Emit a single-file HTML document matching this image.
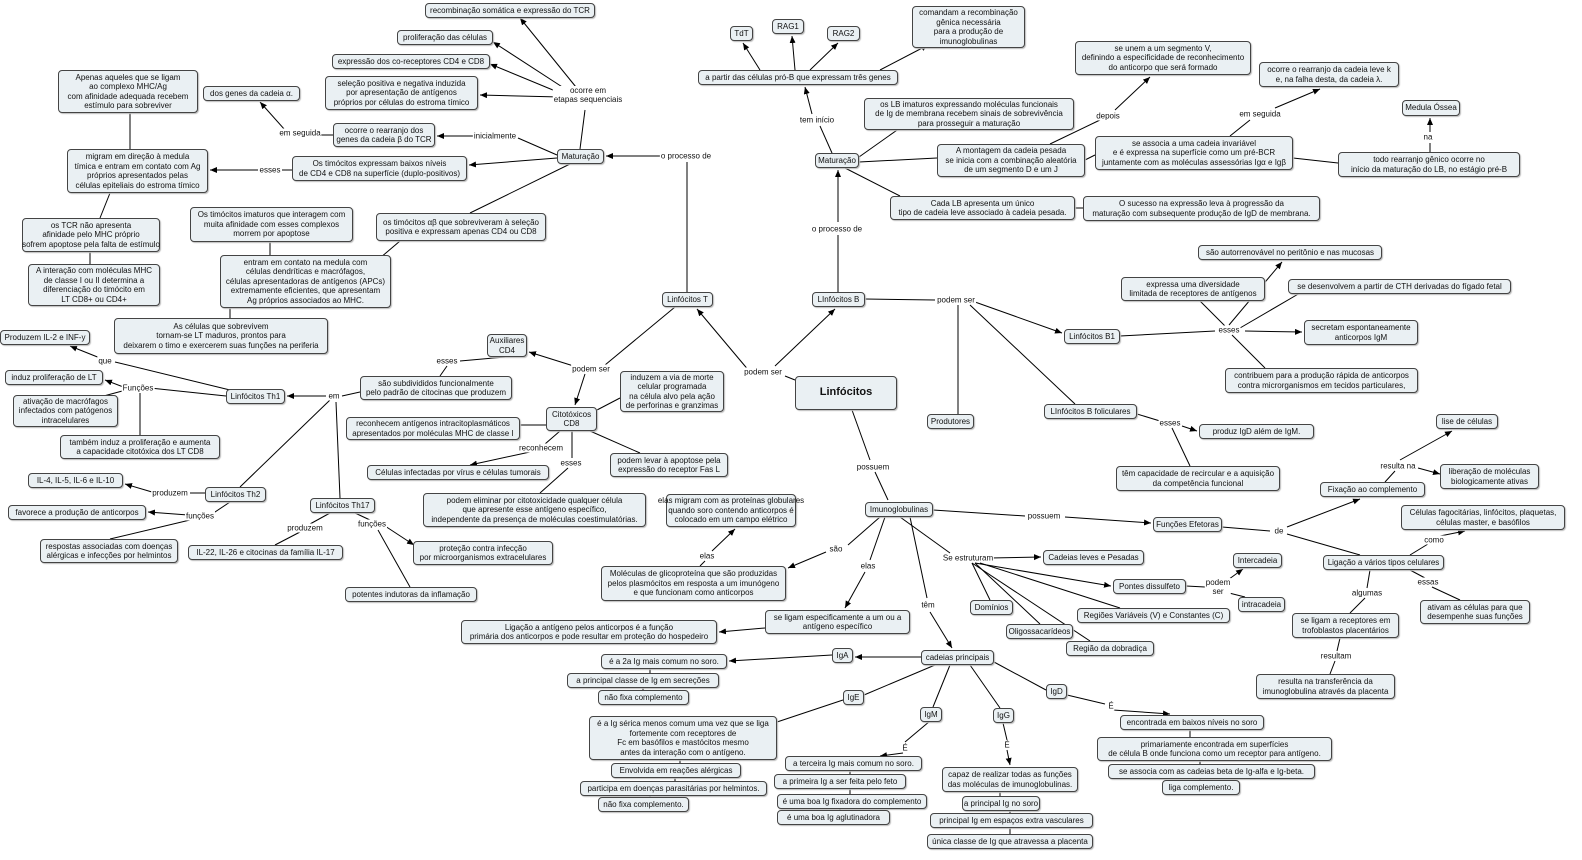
<!DOCTYPE html>
<html><head><meta charset="utf-8"><style>
body{margin:0;width:1582px;height:860px;background:#fff;position:relative;overflow:hidden;font-family:"Liberation Sans",sans-serif;font-size:8px;color:#111}
.n{position:absolute;box-sizing:border-box;border:1px solid #444;border-radius:4px;background:#eaf0f3;display:flex;align-items:center;justify-content:center;text-align:center;line-height:9.5px;box-shadow:1px 1px 1px #bbb;white-space:nowrap}
.l{position:absolute;transform:translate(-50%,-50%);background:#fff;white-space:nowrap;line-height:9px;text-align:center;padding:0 1px}
svg{position:absolute;left:0;top:0}
</style></head><body>
<svg width="1582" height="860"><defs><marker id="a" markerWidth="8" markerHeight="8" refX="7" refY="3" orient="auto"><path d="M0,0L7,3L0,6z" fill="#000"/></marker></defs>
<g stroke="#000" stroke-width="1" fill="none">
<path d="M687,292V162"/><path d="M675,156H606" marker-end="url(#a)"/>
<path d="M580,149L585,110"/><path d="M580,92L520,18" marker-end="url(#a)"/><path d="M570,92L493,42" marker-end="url(#a)"/><path d="M565,95L490,64" marker-end="url(#a)"/><path d="M560,97L480,95" marker-end="url(#a)"/>
<path d="M557,155L518,138"/><path d="M475,136H437" marker-end="url(#a)"/>
<path d="M333,135H318"/><path d="M285,130L260,102" marker-end="url(#a)"/>
<path d="M557,158L469,165" marker-end="url(#a)"/><path d="M292,170H282"/><path d="M258,170H210" marker-end="url(#a)"/>
<path d="M130,149V113"/><path d="M570,164L470,213"/><path d="M110,193L100,218"/><path d="M90,252V264"/>
<path d="M270,242V255"/><path d="M230,308V318"/><path d="M400,241L380,258"/>
<path d="M675,307L605,365"/><path d="M580,368L529,352" marker-end="url(#a)"/><path d="M585,374L575,405" marker-end="url(#a)"/>
<path d="M505,357L460,361"/><path d="M447,366L440,376"/>
<path d="M360,392L342,396"/><path d="M326,396H287" marker-end="url(#a)"/><path d="M330,400L240,487"/><path d="M336,402L340,498"/>
<path d="M226,396L150,388"/><path d="M126,388L105,380" marker-end="url(#a)"/><path d="M126,390L100,397"/><path d="M140,393V435"/>
<path d="M230,390L115,362"/><path d="M100,358L70,346" marker-end="url(#a)"/>
<path d="M205,493L190,493"/><path d="M152,492L125,484" marker-end="url(#a)"/>
<path d="M230,502L212,514"/><path d="M188,515L148,512" marker-end="url(#a)"/><path d="M190,520L110,539"/>
<path d="M330,513L310,524"/><path d="M300,532L275,545"/>
<path d="M355,513L370,520"/><path d="M385,526L414,545" marker-end="url(#a)"/><path d="M378,530L410,587"/>
<path d="M597,410L620,398"/><path d="M546,425H520"/><path d="M560,431L545,444"/><path d="M530,452L470,465" marker-end="url(#a)"/>
<path d="M572,431V458"/><path d="M568,468L540,493"/><path d="M590,431L640,453"/>
<path d="M795,380L785,376"/><path d="M750,372L697,309" marker-end="url(#a)"/><path d="M775,366L835,309" marker-end="url(#a)"/>
<path d="M838,292V235"/><path d="M838,222V170" marker-end="url(#a)"/>
<path d="M832,153L820,126"/><path d="M812,114L805,87" marker-end="url(#a)"/>
<path d="M760,70L743,43" marker-end="url(#a)"/><path d="M795,70L792,36" marker-end="url(#a)"/><path d="M810,70L838,43" marker-end="url(#a)"/><path d="M880,70L928,45" marker-end="url(#a)"/>
<path d="M859,157L900,128"/><path d="M859,162L937,158"/><path d="M845,168L900,196"/>
<path d="M1050,144L1100,120"/><path d="M1115,110L1150,77" marker-end="url(#a)"/>
<path d="M1085,160L1095,155"/><path d="M1230,136L1250,120"/><path d="M1275,108L1320,89" marker-end="url(#a)"/>
<path d="M1293,158L1338,163"/><path d="M1430,152V143"/><path d="M1430,132V118" marker-end="url(#a)"/>
<path d="M1075,208H1083"/>
<path d="M865,299L935,300"/><path d="M975,302L1062,333" marker-end="url(#a)"/><path d="M958,305V414"/><path d="M970,305L1075,404"/>
<path d="M1120,336L1215,331"/><path d="M1229,325L1282,262" marker-end="url(#a)"/><path d="M1225,326L1200,301"/><path d="M1240,328L1300,293"/><path d="M1245,331L1302,332" marker-end="url(#a)"/><path d="M1232,335L1265,368"/>
<path d="M1137,414L1160,421"/><path d="M1182,426L1197,431" marker-end="url(#a)"/><path d="M1172,428L1190,466"/>
<path d="M852,410L870,460"/><path d="M875,472L888,500"/>
<path d="M933,510L1025,516"/><path d="M1065,517L1151,523" marker-end="url(#a)"/>
<path d="M1222,527L1270,531"/><path d="M1287,527L1360,499" marker-end="url(#a)"/><path d="M1287,534L1360,555"/>
<path d="M1385,482L1395,471"/><path d="M1400,460L1452,431" marker-end="url(#a)"/><path d="M1418,468L1440,474" marker-end="url(#a)"/>
<path d="M1410,555L1428,544"/><path d="M1440,536L1465,531" marker-end="url(#a)"/>
<path d="M1370,570L1367,588"/><path d="M1365,598L1350,613"/><path d="M1410,570L1425,578"/><path d="M1432,587L1460,600"/>
<path d="M1340,638L1337,651"/><path d="M1335,661L1330,674"/>
<path d="M880,517L848,545"/><path d="M826,552L788,568" marker-end="url(#a)"/><path d="M700,566L705,561"/><path d="M712,551L735,529" marker-end="url(#a)"/>
<path d="M885,517L870,560"/><path d="M865,572L845,608" marker-end="url(#a)"/><path d="M765,628L719,632" marker-end="url(#a)"/>
<path d="M900,517L950,553"/><path d="M990,558L1041,557" marker-end="url(#a)"/><path d="M975,563L1111,586" marker-end="url(#a)"/><path d="M972,563L990,600"/><path d="M980,563L1120,608"/><path d="M975,563L1040,624"/><path d="M972,563L1090,641"/>
<path d="M1186,586L1205,587"/><path d="M1225,582L1243,569" marker-end="url(#a)"/><path d="M1225,592L1245,597"/>
<path d="M910,517L927,598"/><path d="M930,612L952,648" marker-end="url(#a)"/>
<path d="M921,657H855" marker-end="url(#a)"/><path d="M935,665L864,695"/><path d="M950,665L933,707"/><path d="M970,665L1000,708"/><path d="M994,662L1046,690"/>
<path d="M832,655L729,661" marker-end="url(#a)"/><path d="M650,668V673"/><path d="M643,688V690"/>
<path d="M843,700L777,722"/><path d="M680,760V763"/><path d="M675,778V781"/><path d="M650,796V797"/>
<path d="M930,721L905,742"/><path d="M903,753L880,756" marker-end="url(#a)"/><path d="M850,771V774"/><path d="M850,788V794"/><path d="M840,809V810"/>
<path d="M1003,723L1007,740"/><path d="M1007,750L1010,765" marker-end="url(#a)"/><path d="M1000,792V796"/><path d="M1010,811V813"/><path d="M1010,828V834"/>
<path d="M1067,695L1105,704"/><path d="M1113,710L1170,714" marker-end="url(#a)"/><path d="M1190,730V737"/><path d="M1200,761V764"/><path d="M1200,779V780"/>
</g></svg>

<div class="n" style="left:425px;top:3px;width:170px;height:15px">recombinação somática e expressão do TCR</div>
<div class="n" style="left:397px;top:30px;width:96px;height:15px">proliferação das células</div>
<div class="n" style="left:332px;top:54px;width:158px;height:15px">expressão dos co-receptores CD4 e CD8</div>
<div class="n" style="left:325px;top:76px;width:153px;height:34px">seleção positiva e negativa induzida<br>por apresentação de antígenos<br>próprios por células do estroma tímico</div>
<div class="l" style="left:588px;top:95px">ocorre em<br>etapas sequenciais</div>
<div class="n" style="left:203px;top:86px;width:97px;height:15px">dos genes da cadeia α.</div>
<div class="n" style="left:58px;top:70px;width:140px;height:43px">Apenas aqueles que se ligam<br>ao complexo MHC/Ag<br>com afinidade adequada recebem<br>estímulo para sobreviver</div>
<div class="n" style="left:333px;top:123px;width:102px;height:24px">ocorre o rearranjo dos<br>genes da cadeia β do TCR</div>
<div class="l" style="left:300px;top:133px">em seguida</div>
<div class="l" style="left:495px;top:136px">inicialmente</div>
<div class="n" style="left:557px;top:149px;width:47px;height:15px">Maturação</div>
<div class="l" style="left:686px;top:156px">o processo de</div>
<div class="n" style="left:67px;top:149px;width:141px;height:44px">migram em direção à medula<br>tímica e entram em contato com Ag<br>próprios apresentados pelas<br>células epiteliais do estroma tímico</div>
<div class="l" style="left:270px;top:170px">esses</div>
<div class="n" style="left:292px;top:156px;width:175px;height:25px">Os timócitos expressam baixos níveis<br>de CD4 e CD8 na superfície (duplo-positivos)</div>
<div class="n" style="left:190px;top:207px;width:163px;height:35px">Os timócitos imaturos que interagem com<br>muita afinidade com esses complexos<br>morrem por apoptose</div>
<div class="n" style="left:376px;top:213px;width:170px;height:28px">os timócitos αβ que sobreviveram à seleção<br>positiva e expressam apenas CD4 ou CD8</div>
<div class="n" style="left:22px;top:218px;width:138px;height:34px">os TCR não apresenta<br>afinidade pelo MHC próprio<br>sofrem apoptose pela falta de estímulo</div>
<div class="n" style="left:28px;top:264px;width:132px;height:42px">A interação com moléculas MHC<br>de classe I ou II determina a<br>diferenciação do timócito em<br>LT CD8+ ou CD4+</div>
<div class="n" style="left:220px;top:255px;width:171px;height:53px">entram em contato na medula com<br>células dendríticas e macrófagos,<br>células apresentadoras de antígenos (APCs)<br>extremamente eficientes, que apresentam<br>Ag próprios associados ao MHC.</div>
<div class="n" style="left:114px;top:318px;width:214px;height:36px">As células que sobrevivem<br>tornam-se  LT maduros, prontos para<br>deixarem o timo e exercerem suas funções na periferia</div>
<div class="n" style="left:662px;top:292px;width:51px;height:15px">Linfócitos T</div>
<div class="n" style="left:0px;top:330px;width:90px;height:15px">Produzem IL-2 e INF-y</div>
<div class="l" style="left:105px;top:361px">que</div>
<div class="n" style="left:487px;top:334px;width:40px;height:23px">Auxiliares<br>CD4</div>
<div class="l" style="left:447px;top:361px">esses</div>
<div class="n" style="left:5px;top:370px;width:98px;height:15px">induz proliferação de LT</div>
<div class="l" style="left:138px;top:388px">Funções</div>
<div class="n" style="left:226px;top:389px;width:59px;height:15px">Linfócitos Th1</div>
<div class="n" style="left:360px;top:376px;width:152px;height:24px">são subdivididos funcionalmente<br>pelo padrão de citocinas que produzem</div>
<div class="l" style="left:334px;top:396px">em</div>
<div class="l" style="left:591px;top:369px">podem ser</div>
<div class="n" style="left:620px;top:371px;width:104px;height:41px">induzem a via de morte<br>celular programada<br>na célula alvo pela ação<br>de perforinas e granzimas</div>
<div class="l" style="left:763px;top:372px">podem ser</div>
<div class="n" style="left:795px;top:376px;width:102px;height:34px;font-size:11px;font-weight:bold">Linfócitos</div>
<div class="n" style="left:13px;top:395px;width:105px;height:32px">ativação de macrófagos<br>infectados com patógenos<br>intracelulares</div>
<div class="n" style="left:546px;top:407px;width:51px;height:24px">Citotóxicos<br>CD8</div>
<div class="n" style="left:346px;top:417px;width:174px;height:23px">reconhecem antígenos intracitoplasmáticos<br>apresentados por moléculas MHC de classe I</div>
<div class="n" style="left:60px;top:435px;width:160px;height:24px">também induz a proliferação e aumenta<br>a capacidade citotóxica dos LT CD8</div>
<div class="l" style="left:541px;top:448px">reconhecem</div>
<div class="n" style="left:367px;top:465px;width:182px;height:15px">Células infectadas por vírus e células tumorais</div>
<div class="n" style="left:610px;top:453px;width:118px;height:24px">podem levar à apoptose pela<br>expressão do receptor Fas L</div>
<div class="l" style="left:571px;top:463px">esses</div>
<div class="n" style="left:28px;top:473px;width:95px;height:15px">IL-4, IL-5, IL-6 e IL-10</div>
<div class="l" style="left:170px;top:493px">produzem</div>
<div class="n" style="left:205px;top:487px;width:61px;height:15px">Linfócitos Th2</div>
<div class="n" style="left:8px;top:505px;width:138px;height:15px">favorece a produção de anticorpos</div>
<div class="l" style="left:200px;top:516px">funções</div>
<div class="n" style="left:310px;top:498px;width:65px;height:15px">Linfócitos Th17</div>
<div class="l" style="left:372px;top:524px">funções</div>
<div class="l" style="left:305px;top:528px">produzem</div>
<div class="n" style="left:423px;top:493px;width:223px;height:34px">podem eliminar por citotoxicidade qualquer célula<br>que apresente esse antígeno específico,<br>independente da presença de moléculas coestimulatórias.</div>
<div class="n" style="left:40px;top:539px;width:138px;height:24px">respostas associadas com doenças<br>alérgicas e infecções por helmintos</div>
<div class="n" style="left:188px;top:545px;width:155px;height:15px">IL-22, IL-26 e citocinas da família IL-17</div>
<div class="n" style="left:413px;top:541px;width:140px;height:24px">proteção contra infecção<br>por microorganismos extracelulares</div>
<div class="n" style="left:345px;top:587px;width:132px;height:15px">potentes indutoras da inflamação</div>

<div class="n" style="left:666px;top:494px;width:130px;height:33px">elas migram com as proteínas globulares<br>quando soro contendo anticorpos é<br>colocado em um campo elétrico</div>
<div class="n" style="left:865px;top:502px;width:68px;height:15px">Imunoglobulinas</div>
<div class="l" style="left:873px;top:467px">possuem</div>
<div class="l" style="left:1044px;top:516px">possuem</div>
<div class="n" style="left:1153px;top:517px;width:69px;height:15px">Funções Efetoras</div>
<div class="l" style="left:1279px;top:531px">de</div>
<div class="l" style="left:707px;top:556px">elas</div>
<div class="l" style="left:836px;top:549px">são</div>
<div class="l" style="left:868px;top:566px">elas</div>
<div class="l" style="left:928px;top:605px">têm</div>
<div class="l" style="left:968px;top:558px">Se estruturam</div>
<div class="n" style="left:1043px;top:550px;width:101px;height:15px">Cadeias leves e Pesadas</div>
<div class="n" style="left:601px;top:566px;width:185px;height:35px">Moléculas de glicoproteína que são produzidas<br>pelos plasmócitos em resposta a um imunógeno<br>e que funcionam como anticorpos</div>
<div class="n" style="left:1113px;top:579px;width:73px;height:15px">Pontes dissulfeto</div>
<div class="l" style="left:1218px;top:587px">podem<br>ser</div>
<div class="n" style="left:1233px;top:553px;width:49px;height:15px">Intercadeia</div>
<div class="n" style="left:1238px;top:597px;width:47px;height:15px">intracadeia</div>
<div class="n" style="left:970px;top:600px;width:43px;height:15px">Domínios</div>
<div class="n" style="left:1077px;top:608px;width:153px;height:15px">Regiões Variáveis (V) e Constantes (C)</div>
<div class="n" style="left:1006px;top:624px;width:67px;height:15px">Oligossacarídeos</div>
<div class="n" style="left:1066px;top:641px;width:88px;height:15px">Região da dobradiça</div>
<div class="n" style="left:765px;top:610px;width:145px;height:24px">se ligam especificamente a um ou a<br>antígeno específico</div>
<div class="n" style="left:461px;top:620px;width:256px;height:24px">Ligação a antígeno pelos anticorpos é a função<br>primária dos anticorpos e pode resultar em proteção do hospedeiro</div>
<div class="n" style="left:832px;top:648px;width:21px;height:15px">IgA</div>
<div class="n" style="left:921px;top:650px;width:73px;height:15px">cadeias principais</div>
<div class="n" style="left:601px;top:654px;width:126px;height:15px">é a 2a Ig mais comum no soro.</div>
<div class="n" style="left:567px;top:673px;width:152px;height:15px">a principal classe de Ig em secreções</div>
<div class="n" style="left:598px;top:690px;width:91px;height:15px">não fixa complemento</div>
<div class="n" style="left:843px;top:690px;width:21px;height:15px">IgE</div>
<div class="n" style="left:1046px;top:684px;width:21px;height:15px">IgD</div>
<div class="l" style="left:1111px;top:706px">É</div>
<div class="n" style="left:920px;top:707px;width:22px;height:15px">IgM</div>
<div class="n" style="left:993px;top:708px;width:21px;height:15px">IgG</div>
<div class="n" style="left:589px;top:716px;width:188px;height:44px">é a Ig sérica menos comum uma vez que se liga<br>fortemente com receptores de<br>Fc em basófilos e mastócitos mesmo<br>antes da interação com o antígeno.</div>
<div class="n" style="left:1120px;top:715px;width:144px;height:15px">encontrada em baixos níveis no soro</div>
<div class="l" style="left:905px;top:748px">É</div>
<div class="l" style="left:1007px;top:745px">É</div>
<div class="n" style="left:1097px;top:737px;width:235px;height:24px">primariamente encontrada em superfícies<br>de célula B onde funciona como um receptor para antígeno.</div>
<div class="n" style="left:785px;top:756px;width:137px;height:15px">a terceira Ig mais comum no soro.</div>
<div class="n" style="left:611px;top:763px;width:130px;height:15px">Envolvida em reações alérgicas</div>
<div class="n" style="left:1108px;top:764px;width:207px;height:15px">se associa com as cadeias beta de Ig-alfa e Ig-beta.</div>
<div class="n" style="left:942px;top:767px;width:136px;height:25px">capaz de realizar todas as funções<br>das moléculas de imunoglobulinas.</div>
<div class="n" style="left:774px;top:774px;width:132px;height:15px">a primeira Ig a ser feita pelo feto</div>
<div class="n" style="left:580px;top:781px;width:187px;height:15px">participa em doenças parasitárias por helmintos.</div>
<div class="n" style="left:1162px;top:780px;width:78px;height:15px">liga complemento.</div>
<div class="n" style="left:777px;top:794px;width:150px;height:15px">é uma boa Ig fixadora do complemento</div>
<div class="n" style="left:598px;top:797px;width:91px;height:15px">não fixa complemento.</div>
<div class="n" style="left:962px;top:796px;width:78px;height:15px">a principal Ig no soro</div>
<div class="n" style="left:777px;top:810px;width:113px;height:15px">é uma boa Ig aglutinadora</div>
<div class="n" style="left:930px;top:813px;width:163px;height:15px">principal Ig em espaços extra vasculares</div>
<div class="n" style="left:927px;top:834px;width:166px;height:15px">única classe de Ig que atravessa a placenta</div>

<div class="n" style="left:730px;top:26px;width:23px;height:15px">TdT</div>
<div class="n" style="left:772px;top:19px;width:32px;height:15px">RAG1</div>
<div class="n" style="left:827px;top:26px;width:33px;height:15px">RAG2</div>
<div class="n" style="left:912px;top:6px;width:113px;height:42px">comandam a recombinação<br>gênica necessária<br>para a produção de<br>imunoglobulinas</div>
<div class="n" style="left:698px;top:70px;width:200px;height:15px">a partir das células pró-B que expressam três genes</div>
<div class="n" style="left:1075px;top:41px;width:176px;height:34px">se unem a um segmento V,<br>definindo a especificidade de reconhecimento<br>do anticorpo que será formado</div>
<div class="l" style="left:1108px;top:116px">depois</div>
<div class="n" style="left:1259px;top:62px;width:140px;height:25px">ocorre o rearranjo da cadeia leve k<br>e, na falha desta, da cadeia λ.</div>
<div class="n" style="left:864px;top:98px;width:210px;height:32px">os LB imaturos expressando moléculas funcionais<br>de Ig de membrana recebem sinais de sobrevivência<br>para prosseguir a maturação</div>
<div class="l" style="left:817px;top:120px">tem início</div>
<div class="l" style="left:1260px;top:114px">em seguida</div>
<div class="n" style="left:1402px;top:100px;width:58px;height:16px">Medula Óssea</div>
<div class="l" style="left:1428px;top:137px">na</div>
<div class="n" style="left:815px;top:153px;width:44px;height:15px">Maturação</div>
<div class="n" style="left:937px;top:144px;width:148px;height:33px">A montagem da cadeia pesada<br>se inicia com a combinação aleatória<br>de um segmento D e um J</div>
<div class="n" style="left:1095px;top:136px;width:198px;height:34px">se associa a uma cadeia invariável<br>e é expressa na superfície como um pré-BCR<br>juntamente com as moléculas assessórias Igα e Igβ</div>
<div class="n" style="left:1338px;top:152px;width:182px;height:25px">todo rearranjo gênico ocorre no<br>início da maturação do LB, no estágio pré-B</div>
<div class="n" style="left:890px;top:196px;width:185px;height:24px">Cada LB apresenta um único<br>tipo de cadeia leve associado à cadeia pesada.</div>
<div class="n" style="left:1083px;top:196px;width:237px;height:25px">O sucesso na expressão  leva à progressão da<br>maturação com subsequente produção de IgD de membrana.</div>
<div class="l" style="left:837px;top:229px">o processo de</div>
<div class="n" style="left:1198px;top:245px;width:184px;height:15px">são autorrenovável no peritônio e nas mucosas</div>
<div class="n" style="left:1121px;top:277px;width:144px;height:24px">expressa uma diversidade<br>limitada de receptores de antígenos</div>
<div class="n" style="left:1288px;top:279px;width:223px;height:15px">se desenvolvem a partir de CTH derivadas do fígado fetal</div>
<div class="n" style="left:812px;top:292px;width:53px;height:15px">LInfócitos B</div>
<div class="l" style="left:956px;top:300px">podem ser</div>
<div class="n" style="left:1064px;top:329px;width:56px;height:15px">Linfócitos B1</div>
<div class="l" style="left:1229px;top:330px">esses</div>
<div class="n" style="left:1304px;top:320px;width:114px;height:25px">secretam espontaneamente<br>anticorpos IgM</div>
<div class="n" style="left:1225px;top:368px;width:193px;height:25px">contribuem para a produção rápida de anticorpos<br>contra microrganismos em tecidos particulares,</div>
<div class="n" style="left:1044px;top:404px;width:93px;height:15px">LInfócitos B foliculares</div>
<div class="n" style="left:927px;top:414px;width:47px;height:15px">Produtores</div>
<div class="l" style="left:1170px;top:423px">esses</div>
<div class="n" style="left:1199px;top:424px;width:115px;height:15px">produz IgD além de IgM.</div>
<div class="n" style="left:1436px;top:414px;width:62px;height:15px">lise de células</div>
<div class="l" style="left:1398px;top:466px">resulta na</div>
<div class="n" style="left:1440px;top:464px;width:99px;height:25px">liberação de moléculas<br>biologicamente ativas</div>
<div class="n" style="left:1116px;top:466px;width:164px;height:25px">têm capacidade de recircular e a aquisição<br>da competência funcional</div>
<div class="n" style="left:1320px;top:482px;width:105px;height:15px">Fixação ao complemento</div>
<div class="n" style="left:1401px;top:505px;width:164px;height:25px">Células fagocitárias, linfócitos, plaquetas,<br>células master, e basófilos</div>
<div class="l" style="left:1434px;top:540px">como</div>
<div class="n" style="left:1323px;top:555px;width:121px;height:15px">Ligação a vários tipos celulares</div>
<div class="l" style="left:1367px;top:593px">algumas</div>
<div class="l" style="left:1428px;top:582px">essas</div>
<div class="n" style="left:1292px;top:613px;width:107px;height:25px">se ligam a receptores em<br>trofoblastos placentários</div>
<div class="n" style="left:1420px;top:600px;width:110px;height:24px">ativam as células para que<br>desempenhe suas funções</div>
<div class="l" style="left:1336px;top:656px">resultam</div>
<div class="n" style="left:1256px;top:674px;width:139px;height:25px">resulta na transferência da<br>imunoglobulina através da placenta</div>
</body></html>
